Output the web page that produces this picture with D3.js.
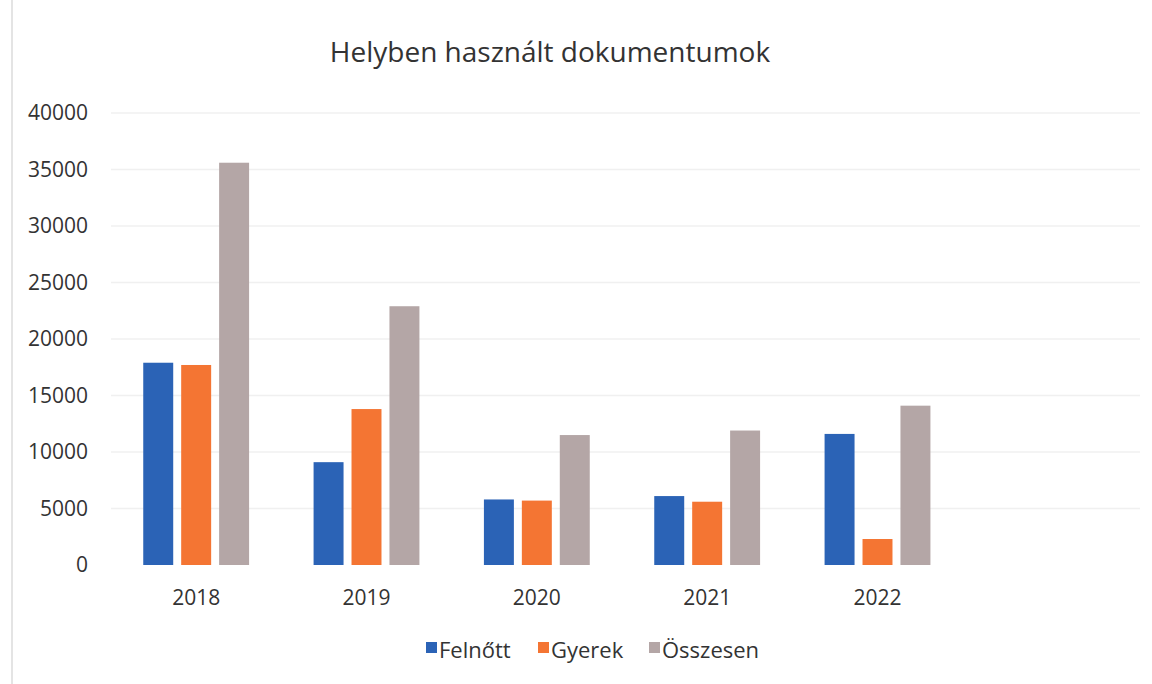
<!DOCTYPE html>
<html>
<head>
<meta charset="utf-8">
<script src="https://cdn.jsdelivr.net/npm/d3@7"></script>
<style>
  html, body { margin: 0; padding: 0; background: #fff; }
  svg { display: block; }
  text { font-family: "Open Sans", "Noto Sans", sans-serif; fill: #333; }
</style>
</head>
<body>
<svg id="chart" width="1152" height="684"></svg>
<script>
const title = "Helyben használt dokumentumok";
const categories = ["2018", "2019", "2020", "2021", "2022", ""];
const series = ["Felnőtt", "Gyerek", "Összesen"];
const felnott = [17900, 9100, 5800, 6100, 11600, null];
const gyerek = [17700, 13800, 5700, 5600, 2300, null];
const osszesen = [35600, 22900, 11500, 11900, 14100, null];
const yTicks = [0, 5000, 10000, 15000, 20000, 25000, 30000, 35000, 40000];
const colors = ["#2b63b6", "#f47533", "#b4a6a6"];

const values = [felnott, gyerek, osszesen];
const svg = d3.select("#chart");

// left border line of scanned chart frame
svg.append("line").attr("x1", 12).attr("x2", 12).attr("y1", 0).attr("y2", 684)
  .attr("stroke", "#e4e4e4").attr("stroke-width", 2);

const x0 = d3.scaleBand().domain(categories).range([111, 1133]).padding(0);
const x1 = d3.scaleBand().domain(series).range([0, x0.bandwidth()])
  .paddingInner(0.21).paddingOuter(0.85);
const y = d3.scaleLinear().domain([0, 40000]).range([565, 113]);

// gridlines
svg.append("g").selectAll("line").data(yTicks.filter(d => d > 0)).join("line")
  .attr("x1", 111).attr("x2", 1140)
  .attr("y1", d => y(d)).attr("y2", d => y(d))
  .attr("stroke", "#f0f0f0").attr("stroke-width", 1.5);

// y axis labels
const yAxis = d3.axisLeft(y).tickValues(yTicks).tickSize(0).tickPadding(0)
  .tickFormat(d3.format("d"));
const gy = svg.append("g").attr("transform", "translate(88,0)").call(yAxis);
gy.select(".domain").remove();
gy.selectAll("text").style("font-size", "21px").attr("fill", "#333")
  .style("font-family", "'Open Sans', sans-serif");

// x axis labels
const xAxis = d3.axisBottom(x0).tickSize(0).tickPadding(0);
const gx = svg.append("g").attr("transform", "translate(0,590)").call(xAxis);
gx.select(".domain").remove();
gx.selectAll("text").style("font-size", "21px").attr("fill", "#333")
  .style("font-family", "'Open Sans', sans-serif");

// bars
series.forEach((s, i) => {
  svg.append("g").selectAll("rect")
    .data(categories.map((c, j) => ({ c, v: values[i][j] })).filter(d => d.v != null))
    .join("rect")
    .attr("x", d => x0(d.c) + x1(s))
    .attr("width", x1.bandwidth())
    .attr("y", d => y(d.v))
    .attr("height", d => y(0) - y(d.v))
    .attr("fill", colors[i]);
});

// title
svg.append("text").attr("x", 550).attr("y", 62).attr("text-anchor", "middle")
  .style("font-size", "28px").attr("fill", "#222").text(title);

// legend
const legendX = [426, 538, 649];
const lg = svg.append("g");
series.forEach((s, i) => {
  lg.append("rect").attr("x", legendX[i]).attr("y", 642).attr("width", 11).attr("height", 11)
    .attr("fill", colors[i]);
  lg.append("text").attr("x", legendX[i] + 13).attr("y", 658)
    .style("font-size", "22px").attr("fill", "#333").text(s);
});
</script>
</body>
</html>
